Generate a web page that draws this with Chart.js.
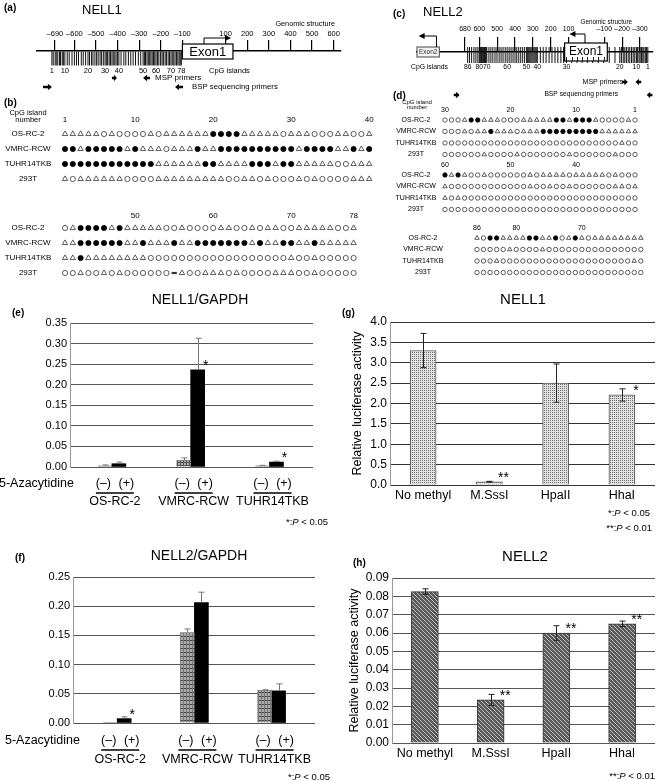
<!DOCTYPE html>
<html><head><meta charset="utf-8"><title>NELL1 / NELL2 methylation and expression</title>
<script src="https://cdn.jsdelivr.net/npm/chart.js@4.4.1/dist/chart.umd.min.js"></script>
<style>html,body{margin:0;padding:0;background:#fff}body{position:relative;width:662px;height:781px;overflow:hidden}canvas{position:absolute;left:0;top:0}</style>
</head><body><script>
const FONT='"Liberation Sans", Arial, Helvetica, sans-serif';
const PW=662, PH=781;

// ================= DATA =================
const cellLines=['OS-RC-2','VMRC-RCW','TUHR14TKB','293T'];

// (a) NELL1 genomic structure, bp relative to transcription start
const nell1Ticks=[-690,-600,-500,-400,-300,-200,-100,100,200,300,400,500,600];
const nell1CpG=[-704,-698,-689,-684,-677,-669,-664,-656,-651,-644,
  -633,-624,-611,-600,-590,-581,-568,-559,-548,-537,
  -530,-521,-514,-505,-497,-490,-481,-474,-466,-458,
  -452,-446,-439,-433,-426,-420,-413,-407,-400,-394,
  -384,-371,-362,-350,-339,-328,-317,-304,-293,-282,
  -276,-271,-264,-258,-253,-246,-240,-234,-228,-222,
  -215,-209,-201,-194,-188,-180,-174,-166,-160,-153,
  -147,-140,-134,-127,-121,-115,-110,-105];
const nell1CpGLabels=[1,10,20,30,40,50,60,70,78];
const nell1Exon=[-100,134];
const nell1TSS=[0,125];
const nell1MSP=[[-426,-403],[-250,-282]];
const nell1BSP=[[-745,-704],[-97,-134]];

// (c) NELL2 genomic structure
const nell2Ticks=[680,600,500,400,300,200,100,-100,-200,-300];
const nell2CpG=[-344,-337,-330,-322,-316,-309,-301,-295,-287,-280,
  -271,-262,-253,-243,-234,-224,-215,-206,-196,-187,
  -160,-128,-97,-66,-35,-5,24,53,83,112,
  128,143,160,176,193,209,226,242,258,275,
  281,287,293,299,305,311,317,323,329,335,
  346,357,368,379,390,400,411,422,433,444,
  455,467,478,489,501,512,524,535,546,558,
  562,566,571,575,579,583,588,592,596,600,
  608,619,630,643,655,665];
const nell2CpGLabels=[86,80,70,60,50,40,30,20,10,1];
const nell2Exon1=[122,-117];
const nell2Exon2=[949,824];
const nell2TSS1=[8,95];
const nell2TSS2=[840,940];
const nell2MSP=[[-200,-232],[-307,-275]];
const nell2BSP=[[743,710],[-370,-338]];

// (b) NELL1 bisulfite sequencing (F = methylated, T = partial, O = unmethylated, X = undetermined)
const nell1MethA=[
 "TTTTTOTOOOOTOTTTTTTFFFFTTTTTOTTTOOOTTOOT",
 "FFTFFFFFTFTTTOTTTFTTFFFFFFFFFFTFFFFTTFTF",
 "FFFFFFFFFFFFTTTTTTFFTTTTFFFTFFTTTTTOOTTT",
 "TOTTTTTTOOOOTTTTTTTTTOOTTOTOOOTOTOOOOTTT"];
const nell1MethB=[
 "OTFFFFTFTTTTTOOTOOOOTTOOTOTTOOTTTTTOOT",
 "TTFFFFFFTTFTTTFTTFFFFFFFTFTTFFTTFTTTTT",
 "TTFTTTTTTTTOOOOOOOOOOOOOOOOOOTOOTOOOOO",
 "OOTOOTOTOOOOOOXTOOTTTOTOOOOTTTOOTOOOOO"];
const nell1TicksA=[1,10,20,30,40];
const nell1TicksB=[50,60,70,78];

// (d) NELL2 bisulfite sequencing (CpG numbers run right to left)
const nell2MethA=[
 "OOOTFFTTTOOOTTTTTFFTFFFTOOOOTO",
 "OOOTOTTFTTTOTTTFFFFFFFFFTTTTTT",
 "OOOOOOOOOOOOOOOOOOOOOOOOOOOTOO",
 "OOOOOOTOOOOTOOOOOOOTOOOOOOTOOO"];
const nell2MethB=[
 "FTFTOOTOOOOOOTOTTTTOTTTTTOTOOO",
 "TOOOOOOOOOOOOTOOTOOTOOOOOOTTOT",
 "TOTOOOOOOOOOOOOOOOOOOOOOOOOOOO",
 "OOOOOOOOOOOOOOOOOOOOOOOOOOOOOO"];
const nell2MethC=[
 "TOFFTTTTFFTTFOTFTOTTTTTTTT",
 "OOOOOTOOOOTOOOOOOOOOOOOOOO",
 "OOOTOOOOOOOOOOOOOOOOOOOOTO",
 "OOOOOOOOOOOOOOOOOOOOOOOOOO"];
const nell2TicksA=[30,20,10,1];
const nell2TicksB=[60,50,40];
const nell2TicksC=[86,80,70];

// (e),(f) expression relative to GAPDH
const azaGroups=['OS-RC-2','VMRC-RCW','TUHR14TKB'];
const nell1Minus=[0.003,0.016,0.003];
const nell1MinusErr=[0.002,0.006,0.001];
const nell1Plus=[0.008,0.236,0.012];
const nell1PlusErr=[0.004,0.077,0.002];
const nell1PlusSig=['','*','*'];
const nell2Minus=[0.0006,0.155,0.056];
const nell2MinusErr=[0,0.006,0.001];
const nell2Plus=[0.0075,0.206,0.055];
const nell2PlusErr=[0.003,0.018,0.012];
const nell2PlusSig=['*','',''];

// (g),(h) luciferase
const lucCats=['No methyl','M.SssI','HpaII','HhaI'];
const nell1Luc=[3.3,0.08,2.5,2.21];
const nell1LucErr=[0.42,0.01,0.47,0.15];
const nell1LucSig=['','**','','*'];
const nell2Luc=[0.0826,0.0235,0.060,0.065];
const nell2LucErr=[0.0015,0.003,0.004,0.0015];
const nell2LucSig=['','**','**','**'];

// ================= HELPERS =================
Chart.defaults.font.family=FONT;
Chart.defaults.color='#000';
function baseOpts(extra){return Object.assign({responsive:false,maintainAspectRatio:false,animation:false,devicePixelRatio:1,events:[],
  plugins:{legend:{display:false},tooltip:{enabled:false}}},extra);}
function mkCanvas(){const c=document.createElement('canvas');c.width=PW;c.height=PH;c.style.width=PW+'px';c.style.height=PH+'px';document.body.appendChild(c);return c;}
function txt(ctx,s,x,y,size,o){o=o||{};ctx.save();ctx.font=(o.style||'normal')+' '+(o.weight||'normal')+' '+size+'px '+FONT;
  ctx.fillStyle=o.color||'#000';ctx.textAlign=o.align||'left';ctx.textBaseline=o.baseline||'middle';
  if(o.rot){ctx.translate(x,y);ctx.rotate(o.rot);ctx.fillText(s,0,0);}else ctx.fillText(s,x,y);ctx.restore();}
function pnote(ctx,pre,rest,xr,y,size){ctx.save();ctx.textBaseline='middle';ctx.fillStyle='#000';ctx.textAlign='left';
  const fN=size+'px '+FONT,fI='italic '+size+'px '+FONT;ctx.font=fN;const w1=ctx.measureText(pre).width,w3=ctx.measureText(rest).width;
  ctx.font=fI;const w2=ctx.measureText('P').width;let x=xr-(w1+w2+w3);
  ctx.font=fN;ctx.fillText(pre,x,y);x+=w1;ctx.font=fI;ctx.fillText('P',x,y);x+=w2;ctx.font=fN;ctx.fillText(rest,x,y);ctx.restore();}
function dashNum(v){return v<0?'\u2013'+(-v):String(v);}
function bentArrow(ctx,x0,y0,y1,x1){const d=Math.sign(x1-x0);ctx.beginPath();ctx.moveTo(x0,y0);ctx.lineTo(x0,y1);ctx.lineTo(x1-d*3,y1);ctx.stroke();
  ctx.beginPath();ctx.moveTo(x1,y1);ctx.lineTo(x1-d*6,y1-3);ctx.lineTo(x1-d*6,y1+3);ctx.closePath();ctx.fill();}
function primer(ctx,x1,x2,y){const d=Math.sign(x2-x1)||1,hl=Math.min(4,Math.abs(x2-x1)*0.6),sh=1.3,hw=3.2;
  ctx.beginPath();ctx.moveTo(x1,y-sh);ctx.lineTo(x2-d*hl,y-sh);ctx.lineTo(x2-d*hl,y-hw);ctx.lineTo(x2,y);ctx.lineTo(x2-d*hl,y+hw);ctx.lineTo(x2-d*hl,y+sh);ctx.lineTo(x1,y+sh);ctx.closePath();ctx.fill();}
function mkPattern(w,h,draw){const c=document.createElement('canvas');c.width=w;c.height=h;const g=c.getContext('2d');draw(g);return g.createPattern(c,'repeat');}
const patE=mkPattern(3,3,g=>{g.fillStyle='#b4b4b4';g.fillRect(0,0,3,3);g.fillStyle='#505050';g.fillRect(0,0,3,1);g.fillRect(0,0,1,3);});
const patF=mkPattern(6,4,g=>{g.fillStyle='#aaaaaa';g.fillRect(0,0,6,4);g.fillStyle='#444';g.fillRect(0,0,6,1);g.fillStyle='#777';g.fillRect(0,0,1,4);g.fillRect(3,0,1,4);});
const patG=mkPattern(2,2,g=>{g.fillStyle='#e2e2e2';g.fillRect(0,0,2,2);g.fillStyle='#6e6e6e';g.fillRect(0,0,1,1);});
const patH=mkPattern(4,4,g=>{g.fillStyle='#5a5a5a';g.fillRect(0,0,4,4);g.fillStyle='#bdbdbd';for(let i=0;i<4;i++)g.fillRect(i,i,1,1);});

function errorBars(chart,di,vals,errs,o){const ctx=chart.ctx,ys=chart.scales.y,meta=chart.getDatasetMeta(di),cap=o.cap||6;
  ctx.save();ctx.strokeStyle=o.color||'#333';ctx.lineWidth=1;
  meta.data.forEach((el,i)=>{if(!errs[i])return;const x=Math.round(el.x)+0.5;const yT=ys.getPixelForValue(vals[i]+errs[i]);
    const yB=ys.getPixelForValue(o.both?vals[i]-errs[i]:vals[i]);
    ctx.beginPath();ctx.moveTo(x,yB);ctx.lineTo(x,yT);ctx.moveTo(x-cap/2,yT);ctx.lineTo(x+cap/2,yT);
    if(o.both){ctx.moveTo(x-cap/2,yB);ctx.lineTo(x+cap/2,yB);}ctx.stroke();});
  ctx.restore();}
function sigMarks(chart,di,sigs){const meta=chart.getDatasetMeta(di);
  meta.data.forEach((el,i)=>{if(!sigs[i])return;txt(chart.ctx,sigs[i],el.x+el.width/2+1,el.y,14,{align:'center',baseline:'alphabetic'});});}

function methChart(rows,leftCpG,reverse,xTicks,area,fs,labelCenter,numPad,rc,rt){
  const data=[],ps=[],pr=[],pbg=[],pbc=[],pbw=[];
  rows.forEach((s,r)=>{for(let k=0;k<s.length;k++){const code=s[k];
    data.push({x:reverse?leftCpG-k:leftCpG+k,y:cellLines[r]});
    if(code==='F'){ps.push('circle');pr.push(rc);pbg.push('#000');pbc.push('#000');pbw.push(0.8);}
    else if(code==='T'){ps.push('triangle');pr.push(rt);pbg.push('#fff');pbc.push('#333');pbw.push(0.8);}
    else if(code==='X'){ps.push('line');pr.push(rc);pbg.push('#333');pbc.push('#333');pbw.push(2.2);}
    else{ps.push('circle');pr.push(rc);pbg.push('#fff');pbc.push('#333');pbw.push(0.8);}}});
  const n=rows[0].length;
  const lo=reverse?leftCpG-n+1:leftCpG, hi=reverse?leftCpG:leftCpG+n-1;
  const m=document.createElement('canvas').getContext('2d');m.font=fs+'px '+FONT;
  const widest=Math.max(...cellLines.map(l=>m.measureText(l).width));
  const YW=Math.min(100,area.l);
  return new Chart(mkCanvas(),{type:'scatter',
    data:{datasets:[{data,pointStyle:ps,pointRadius:pr,pointBackgroundColor:pbg,pointBorderColor:pbc,pointBorderWidth:pbw,clip:false}]},
    options:baseOpts({layout:{padding:{left:area.l-YW,right:PW-area.r,top:area.t-14,bottom:PH-area.b}},
      scales:{
        x:{type:'linear',position:'top',reverse,min:lo-0.5,max:hi+0.5,afterFit:s=>{s.height=14;},
          afterBuildTicks:s=>{s.ticks=xTicks.map(v=>({value:v}));},
          ticks:{font:{size:fs},padding:numPad,maxRotation:0,minRotation:0,autoSkip:false,color:'#000'},
          grid:{display:false,drawTicks:false},border:{display:false}},
        y:{type:'category',labels:cellLines,offset:true,afterFit:s=>{s.width=YW;},
          ticks:{crossAlign:'center',padding:area.l-labelCenter-widest/2,font:{size:fs},color:'#000',autoSkip:false},
          grid:{display:false,drawTicks:false},border:{display:false}}}})});
}

function azaLabels(c,xr,y1,y2,y3){const ctx=c.ctx,xs=c.scales.x;
  txt(ctx,'5-Azacytidine',xr,y1,12.5,{align:'right'});
  azaGroups.forEach((g,i)=>{const cx=xs.getPixelForValue(i)+3;
    txt(ctx,'(\u2013)',cx-11.5,y1,12.5,{align:'center'});txt(ctx,'(+)',cx+11.5,y1,12.5,{align:'center'});
    ctx.save();ctx.strokeStyle='#000';ctx.lineWidth=1.6;ctx.beginPath();ctx.moveTo(cx-19,y2);ctx.lineTo(cx+19,y2);ctx.stroke();ctx.restore();
    txt(ctx,g,cx,y3,12.5,{align:'center'});});}

function azaChart(area,xmin,xmax,ymax,minus,minusErr,plus,plusErr,sig,pat,decor){
  return new Chart(mkCanvas(),{type:'bar',
    data:{datasets:[
      {data:minus.map((v,i)=>({x:i,y:v})),backgroundColor:pat,borderColor:'#777',borderWidth:0.6,barThickness:14},
      {data:plus.map((v,i)=>({x:i,y:v})),backgroundColor:'#000',borderWidth:0,barThickness:14}]},
    options:baseOpts({layout:{padding:{left:area.l-40,right:PW-area.r,top:area.t,bottom:PH-area.b}},
      scales:{x:{type:'linear',min:xmin,max:xmax,display:false},
        y:{min:0,max:ymax,afterFit:s=>{s.width=40;},
          ticks:{stepSize:0.05,callback:v=>v.toFixed(2),font:{size:11},padding:3,color:'#000'},
          grid:{color:'#555',drawTicks:false,lineWidth:1},border:{display:true,color:'#999'}}}}),
    plugins:[{id:'azaDecor',afterDatasetsDraw(c){errorBars(c,0,minus,minusErr,{color:'#777'});errorBars(c,1,plus,plusErr,{color:'#777'});sigMarks(c,1,sig);},
      afterDraw(c){decor(c);}}]});
}

function lucChart(area,ymax,step,dec,vals,errs,sig,pat,bw,bcol,gcol,decor){
  return new Chart(mkCanvas(),{type:'bar',
    data:{labels:lucCats,datasets:[{data:vals,backgroundColor:pat,borderColor:bcol,borderWidth:1,barThickness:bw}]},
    options:baseOpts({layout:{padding:{left:area.l-50,right:PW-area.r,top:area.t,bottom:PH-area.b-22}},
      scales:{x:{type:'category',offset:true,afterFit:s=>{s.height=22;},ticks:{font:{size:12.5},padding:3.5,color:'#000',maxRotation:0,autoSkip:false},
          grid:{display:false,drawTicks:false},border:{display:false}},
        y:{min:0,max:ymax,afterFit:s=>{s.width=50;},ticks:{stepSize:step,callback:v=>v.toFixed(dec),font:{size:12},padding:3,color:'#000'},
          grid:{color:gcol,drawTicks:false,lineWidth:1},border:{display:true,color:'#999'}}}}),
    plugins:[{id:'lucDecor',afterDatasetsDraw(c){errorBars(c,0,vals,errs,{color:'#222',both:true});sigMarks(c,0,sig);},
      afterDraw(c){decor(c);}}]});
}

// ================= (a) NELL1 genomic structure =================
new Chart(mkCanvas(),{type:'scatter',
  data:{datasets:[{data:nell1CpG.map(v=>({x:v,y:0.5})),pointStyle:'line',pointRotation:90,pointRadius:7,pointBorderColor:'#111',pointBorderWidth:1,clip:false}]},
  options:baseOpts({layout:{padding:{left:37,right:PW-341,top:51-30,bottom:PH-66}},
    scales:{x:{type:'linear',position:'top',min:-773,max:634,afterFit:s=>{s.height=30;},
        afterBuildTicks:s=>{s.ticks=nell1Ticks.map(v=>({value:v}));},
        ticks:{callback:dashNum,font:{size:7.5},padding:1.5,maxRotation:0,minRotation:0,autoSkip:false,color:'#000'},
        grid:{drawOnChartArea:false,drawTicks:true,tickLength:11,color:'#000',lineWidth:1.2},
        border:{display:true,color:'#000',width:1.5}},
      y:{display:false,min:0,max:1}}}),
  plugins:[{id:'nell1Genomic',afterDraw(c){
    const ctx=c.ctx,xs=c.scales.x,b=c.chartArea.top,px=v=>xs.getPixelForValue(v);
    ctx.save();
    const x1=px(nell1Exon[0]),x2=px(nell1Exon[1]);
    ctx.fillStyle='#fff';ctx.fillRect(x1,b-7,x2-x1,15);ctx.strokeStyle='#000';ctx.lineWidth=1.2;ctx.strokeRect(x1,b-7,x2-x1,15);
    txt(ctx,'Exon1',(x1+x2)/2,b+1,13,{align:'center'});
    ctx.fillStyle='#000';ctx.lineWidth=1;bentArrow(ctx,px(nell1TSS[0]),b-7,b-13,px(nell1TSS[1]));
    nell1CpGLabels.forEach(n=>txt(ctx,String(n),px(nell1CpG[n-1]),71,7.5,{align:'center'}));
    txt(ctx,'CpG islands',209,71,7.5);
    ctx.fillStyle='#000';
    nell1MSP.forEach(p=>primer(ctx,px(p[0]),px(p[1]),78));
    txt(ctx,'MSP primers',155,78,8);
    nell1BSP.forEach(p=>primer(ctx,px(p[0]),px(p[1]),87));
    txt(ctx,'BSP sequencing primers',192,87,7.8);
    txt(ctx,'Genomic structure',335,24,7.3,{align:'right'});
    txt(ctx,'(a)',4,8,10,{weight:'bold'});
    txt(ctx,'NELL1',82,10,13);
    txt(ctx,'(b)',4,103,10,{weight:'bold'});
    txt(ctx,'CpG island',28,113,7.5,{align:'center'});
    txt(ctx,'number',28,120,7.5,{align:'center'});
    ctx.restore();}}]});

// ================= (c) NELL2 genomic structure =================
new Chart(mkCanvas(),{type:'scatter',
  data:{datasets:[{data:nell2CpG.map(v=>({x:v,y:0.75})),pointStyle:'line',pointRotation:90,pointRadius:8,pointBorderColor:'#111',pointBorderWidth:1,clip:false}]},
  options:baseOpts({layout:{padding:{left:417,right:PW-660,top:52-32,bottom:PH-64}},
    scales:{x:{type:'linear',position:'top',reverse:true,min:-373,max:949,afterFit:s=>{s.height=32;},
        afterBuildTicks:s=>{s.ticks=nell2Ticks.map(v=>({value:v}));},
        ticks:{callback:dashNum,font:{size:7},padding:3.8,maxRotation:0,minRotation:0,autoSkip:false,color:'#000'},
        grid:{drawOnChartArea:false,drawTicks:true,tickLength:15,color:'#000',lineWidth:1.2},
        border:{display:true,color:'#000',width:1.5}},
      y:{display:false,min:0,max:1}}}),
  plugins:[{id:'nell2Genomic',afterDraw(c){
    const ctx=c.ctx,xs=c.scales.x,b=c.chartArea.top,px=v=>xs.getPixelForValue(v);
    ctx.save();
    let a=px(nell2Exon2[0]),z=px(nell2Exon2[1]);
    ctx.fillStyle='#f4f4f4';ctx.fillRect(a,b-5,z-a,10);ctx.strokeStyle='#444';ctx.lineWidth=1;ctx.strokeRect(a,b-5,z-a,10);
    txt(ctx,'Exon2',(a+z)/2,b+0.5,6.5,{align:'center',color:'#333'});
    ctx.fillStyle='#000';ctx.strokeStyle='#000';bentArrow(ctx,px(nell2TSS2[0]),b-5,b-16,px(nell2TSS2[1]));
    a=px(nell2Exon1[0]);z=px(nell2Exon1[1]);
    ctx.fillStyle='#fff';ctx.fillRect(a,b-9,z-a,18);ctx.strokeStyle='#000';ctx.lineWidth=1.2;ctx.strokeRect(a,b-9,z-a,18);
    txt(ctx,'Exon1',(a+z)/2,b,12,{align:'center'});
    ctx.lineWidth=1;ctx.strokeStyle='#222';
    nell2CpG.filter(v=>v<nell2Exon1[0]&&v>nell2Exon1[1]).forEach(v=>{const x=Math.round(px(v))+0.5;ctx.beginPath();ctx.moveTo(x,b+5);ctx.lineTo(x,b+9);ctx.stroke();});
    ctx.fillStyle='#000';ctx.strokeStyle='#000';bentArrow(ctx,px(nell2TSS1[0]),b-9,b-18,px(nell2TSS1[1]));
    nell2CpGLabels.forEach(n=>txt(ctx,String(n),px(nell2CpG[n-1]),67,6.8,{align:'center'}));
    txt(ctx,'CpG islands',411,67,6.8);
    ctx.fillStyle='#000';
    nell2MSP.forEach(p=>primer(ctx,px(p[0]),px(p[1]),82));
    txt(ctx,'MSP primers',623,82,7,{align:'right'});
    nell2BSP.forEach(p=>primer(ctx,px(p[0]),px(p[1]),95));
    txt(ctx,'BSP sequencing primers',618,94,6.7,{align:'right'});
    txt(ctx,'Genomic structure',632,22,6.3,{align:'right'});
    txt(ctx,'(c)',393,14,10,{weight:'bold'});
    txt(ctx,'NELL2',423,12,13);
    txt(ctx,'(d)',393,96,10,{weight:'bold'});
    txt(ctx,'CpG island',417,102,6,{align:'center'});
    txt(ctx,'number',417,107.5,6,{align:'center'});
    ctx.restore();}}]});

// ================= (b) NELL1 methylation =================
methChart(nell1MethA,1,false,nell1TicksA,{l:61.1,r:373.1,t:126.5,b:186.5},8,28,1.7,2.6,3.1);
methChart(nell1MethB,41,false,nell1TicksB,{l:61.1,r:357.5,t:220.5,b:280.5},8,28,0,2.6,3.1);
// ================= (d) NELL2 methylation =================
methChart(nell2MethA,30,true,nell2TicksA,{l:441.7,r:638.3,t:114.25,b:160.25},7,416,0,2.2,2.6);
methChart(nell2MethB,60,true,nell2TicksB,{l:441.7,r:638.3,t:169.25,b:215.25},7,416,0,2.2,2.6);
methChart(nell2MethC,86,true,nell2TicksC,{l:473.7,r:644.1,t:232.25,b:278.25},7,423,0,2.2,2.6);

// ================= (e) NELL1/GAPDH =================
azaChart({l:70,r:313,t:323,b:467},-0.223,2.244,0.35,nell1Minus,nell1MinusErr,nell1Plus,nell1PlusErr,nell1PlusSig,patE,c=>{
  azaLabels(c,74,484,493,502);
  txt(c.ctx,'NELL1/GAPDH',200,300,14,{align:'center'});
  txt(c.ctx,'(e)',12,313,10,{weight:'bold'});
  pnote(c.ctx,'*:',' < 0.05',328,522,9.5);});

// ================= (f) NELL2/GAPDH =================
azaChart({l:73,r:315,t:577,b:723},-0.259,2.249,0.25,nell2Minus,nell2MinusErr,nell2Plus,nell2PlusErr,nell2PlusSig,patF,c=>{
  azaLabels(c,80,741,750,760);
  txt(c.ctx,'NELL2/GAPDH',199,556,14,{align:'center'});
  txt(c.ctx,'(f)',15,558,10,{weight:'bold'});
  pnote(c.ctx,'*:',' < 0.05',330,777,9.5);});

// ================= (g) NELL1 luciferase =================
lucChart({l:390,r:655,t:322,b:485},4,0.5,1,nell1Luc,nell1LucErr,nell1LucSig,patG,26,'#555','#333',c=>{
  txt(c.ctx,'Relative luciferase activity',358,403.5,12.5,{align:'center',rot:-Math.PI/2});
  txt(c.ctx,'NELL1',523,300,15,{align:'center'});
  txt(c.ctx,'(g)',342,313,10,{weight:'bold'});
  pnote(c.ctx,'*:',' < 0.05',650,513,9.5);
  pnote(c.ctx,'**:',' < 0.01',652,528,9.5);});

// ================= (h) NELL2 luciferase =================
lucChart({l:392,r:655,t:578,b:743},0.09,0.01,2,nell2Luc,nell2LucErr,nell2LucSig,patH,27,'#333','#555',c=>{
  txt(c.ctx,'Relative luciferase activity',355,660.5,12.5,{align:'center',rot:-Math.PI/2});
  txt(c.ctx,'NELL2',525,557,15,{align:'center'});
  txt(c.ctx,'(h)',353,563,10,{weight:'bold'});
  pnote(c.ctx,'**:',' < 0.01',655,776,9.5);});
</script></body></html>
